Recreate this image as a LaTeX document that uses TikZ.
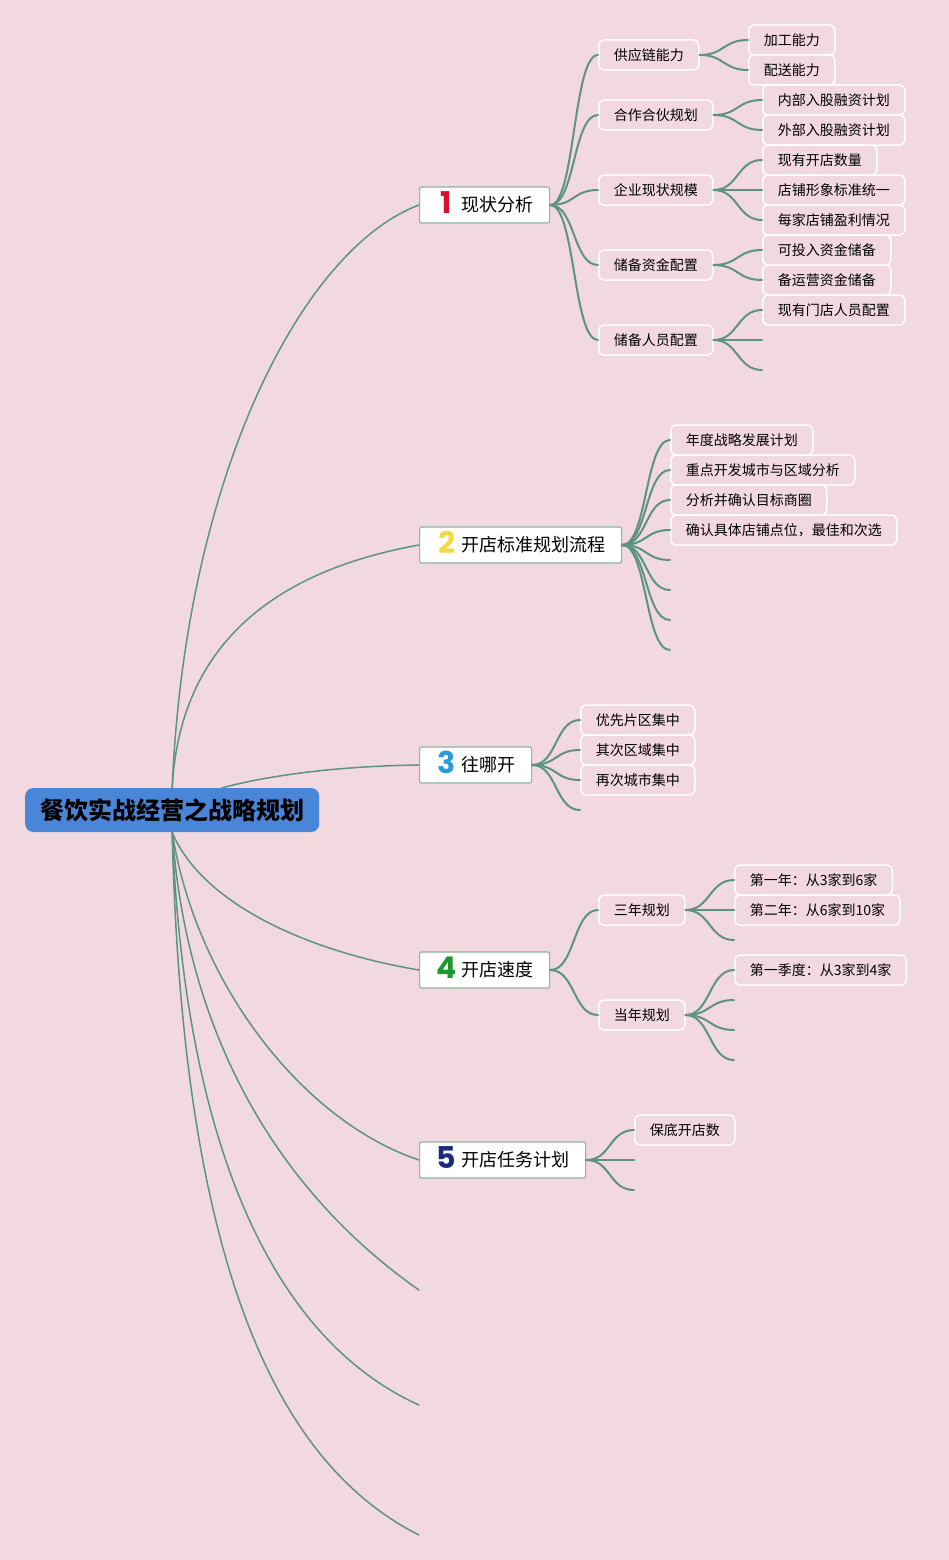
\documentclass[tikz,border=0pt]{standalone}
\usepackage{fontspec}
\setmainfont{Noto Sans CJK SC}
\newfontfamily\numfont{Poppins}
\usepackage{tikz}
\usetikzlibrary{positioning}

\definecolor{bgpink}{HTML}{F2D9E0}
\definecolor{branch}{HTML}{5E9384}
\definecolor{rootblue}{HTML}{4A86D8}
\definecolor{topicline}{HTML}{8DB3A3}
\definecolor{numred}{HTML}{D9102B}
\definecolor{numyellow}{HTML}{F2DA45}
\definecolor{numblue}{HTML}{2A9BDE}
\definecolor{numgreen}{HTML}{1C9A2C}
\definecolor{numnavy}{HTML}{1B2A7A}

\newcommand{\topicnum}[2]{\smash{\raisebox{-1.5pt}{\makebox[22pt][c]{\color{#1}\numfont\bfseries\fontsize{30}{30}\selectfont #2}}}\hspace{4pt}}

\begin{document}
\begin{tikzpicture}[x=1pt, y=-1pt, line cap=round,
    rootbox/.style={fill=rootblue, rounded corners=8pt, inner xsep=15pt, inner ysep=0pt,
        minimum height=44pt, anchor=west, font=\fontsize{24}{26}\selectfont\bfseries},
    topic/.style={draw=topicline, fill=white, line width=1.2pt, rounded corners=2pt,
        inner xsep=16pt, inner ysep=0pt, minimum height=36pt, anchor=west,
        font=\fontsize{18}{20}\selectfont},
    leaf/.style={draw=white, line width=1.5pt, rounded corners=5pt, inner xsep=15pt,
        inner ysep=0pt, minimum height=30pt, anchor=west, font=\fontsize{14}{16}\selectfont},
    trunk/.style={draw=branch, line width=1.5pt},
    twig/.style={draw=branch, line width=2pt,
        to path={.. controls ([xshift=25pt]\tikztostart) and ([xshift=-25pt]\tikztotarget) .. (\tikztotarget)}}]

    \fill[bgpink] (0,0) rectangle (949,1560);
    \useasboundingbox (0,0) rectangle (949,1560);

    %Nodes
    \node[rootbox] (root) at (25,810) {餐饮实战经营之战略规划};

    \node[topic] (now) at (419,205) {\topicnum{numred}{1}现状分析};
    \node[topic] (std) at (419,545) {\topicnum{numyellow}{2}开店标准规划流程};
    \node[topic] (where) at (419,765) {\topicnum{numblue}{3}往哪开};
    \node[topic] (speed) at (419,970) {\topicnum{numgreen}{4}开店速度};
    \node[topic] (task) at (419,1160) {\topicnum{numnavy}{5}开店任务计划};
    \coordinate (mainA) at (419,1290);
    \coordinate (mainB) at (419,1405);
    \coordinate (mainC) at (419,1535);

    % 1
    \node[leaf] (supply) at (598,55) {供应链能力};
    \node[leaf] (partner) at (598,115) {合作合伙规划};
    \node[leaf] (firm) at (598,190) {企业现状规模};
    \node[leaf] (fund) at (598,265) {储备资金配置};
    \node[leaf] (staff) at (598,340) {储备人员配置};
    \node[leaf] (process) at (748,40) {加工能力};
    \node[leaf] (delivery) at (748,70) {配送能力};
    \node[leaf] (inner) at (762,100) {内部入股融资计划};
    \node[leaf] (outer) at (762,130) {外部入股融资计划};
    \node[leaf] (count) at (762,160) {现有开店数量};
    \node[leaf] (look) at (762,190) {店铺形象标准统一};
    \node[leaf] (profit) at (762,220) {每家店铺盈利情况};
    \node[leaf] (invest) at (762,250) {可投入资金储备};
    \node[leaf] (operate) at (762,280) {备运营资金储备};
    \node[leaf] (people) at (762,310) {现有门店人员配置};
    \coordinate (staffA) at (762,340);
    \coordinate (staffB) at (762,370);

    % 2
    \node[leaf] (plan) at (670,440) {年度战略发展计划};
    \node[leaf] (city) at (670,470) {重点开发城市与区域分析};
    \node[leaf] (area) at (670,500) {分析并确认目标商圈};
    \node[leaf] (site) at (670,530) {确认具体店铺点位，最佳和次选};
    \coordinate (stdA) at (670,560);
    \coordinate (stdB) at (670,590);
    \coordinate (stdC) at (670,620);
    \coordinate (stdD) at (670,650);

    % 3
    \node[leaf] (first) at (580,720) {优先片区集中};
    \node[leaf] (second) at (580,750) {其次区域集中};
    \node[leaf] (third) at (580,780) {再次城市集中};
    \coordinate (whereA) at (580,810);

    % 4
    \node[leaf] (three) at (598,910) {三年规划};
    \node[leaf] (year) at (598,1015) {当年规划};
    \node[leaf] (yearI) at (734,880) {第一年：从3家到6家};
    \node[leaf] (yearII) at (734,910) {第二年：从6家到10家};
    \coordinate (threeA) at (734,940);
    \node[leaf] (season) at (734,970) {第一季度：从3家到4家};
    \coordinate (yearA) at (734,1000);
    \coordinate (yearB) at (734,1030);
    \coordinate (yearC) at (734,1060);

    % 5
    \node[leaf] (base) at (634,1130) {保底开店数};
    \coordinate (taskA) at (634,1160);
    \coordinate (taskB) at (634,1190);

    % Edges
    \draw[trunk] (root.north) .. controls (185,480) and (300,250) .. (now.west);
    \draw[trunk] (root.north) .. controls (180,640) and (280,570) .. (std.west);
    \draw[trunk] ([xshift=50pt]root.north) .. controls (270,775) and (340,766) .. (where.west);
    \draw[trunk] (root.south) .. controls (200,900) and (300,950) .. (speed.west);
    \draw[trunk] (root.south) .. controls (195,980) and (300,1120) .. (task.west);
    \draw[trunk] (root.south) .. controls (188,1050) and (290,1200) .. (mainA);
    \draw[trunk] (root.south) .. controls (185,1150) and (275,1340) .. (mainB);
    \draw[trunk] (root.south) .. controls (182,1250) and (270,1460) .. (mainC);

    \foreach \a/\b in {now/supply, now/partner, now/firm, now/fund, now/staff,
        supply/process, supply/delivery, partner/inner, partner/outer,
        firm/count, firm/look, firm/profit, fund/invest, fund/operate, staff/people,
        std/plan, std/city, std/area, std/site,
        where/first, where/second, where/third,
        speed/three, speed/year, three/yearI, three/yearII, year/season,
        task/base}
        \draw[twig] (\a.east) to (\b.west);

    \foreach \a/\b in {staff/staffA, staff/staffB, std/stdA, std/stdB, std/stdC, std/stdD,
        where/whereA, three/threeA, year/yearA, year/yearB, year/yearC,
        task/taskA, task/taskB}
        \draw[twig] (\a.east) to (\b);

\end{tikzpicture}
\end{document}
